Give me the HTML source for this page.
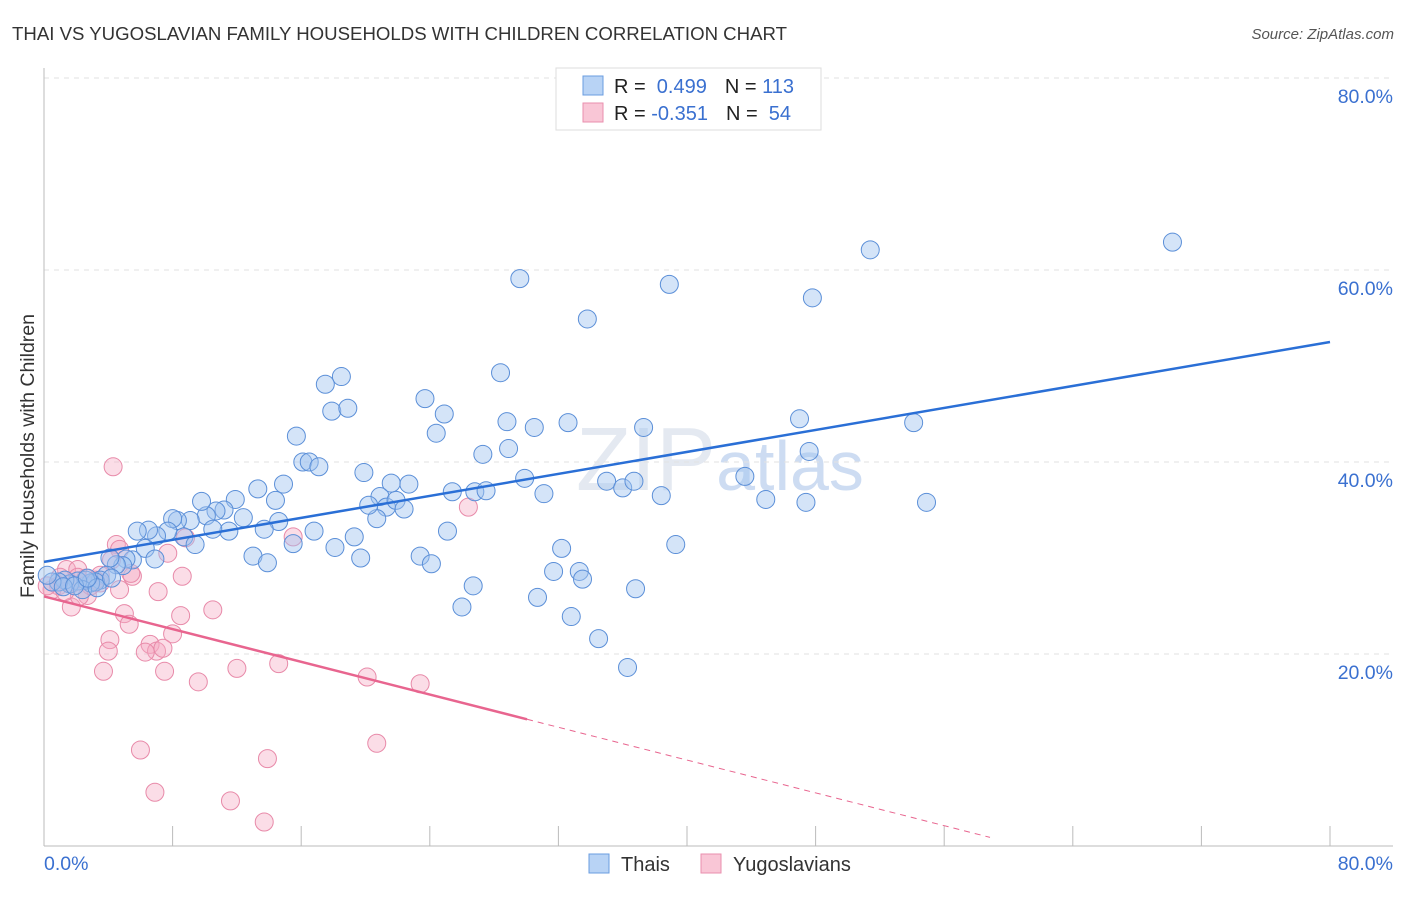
<!DOCTYPE html>
<html><head><meta charset="utf-8"><style>
body{margin:0;background:#fff;font-family:"Liberation Sans",sans-serif}
svg text{font-family:"Liberation Sans",sans-serif}
</style></head><body>
<svg id="chart" width="1406" height="892" xmlns="http://www.w3.org/2000/svg">
<text x="12" y="40" font-size="18.6" fill="#333" textLength="775" lengthAdjust="spacingAndGlyphs">THAI VS YUGOSLAVIAN FAMILY HOUSEHOLDS WITH CHILDREN CORRELATION CHART</text>
<text x="1394" y="39" font-size="15" fill="#555" text-anchor="end" font-style="italic">Source: ZipAtlas.com</text>
<text x="720" y="490" font-size="90" fill="#e4e9f1" text-anchor="middle" font-family="Liberation Serif">ZIP<tspan font-family="Liberation Sans" font-size="70" fill="#cddcf2">atlas</tspan></text>
<g id="grid"></g><g id="axes"></g><g id="pink"></g><g id="blue"></g><g id="trends"></g>
<text transform="translate(34,456) rotate(-90)" font-size="19.5" fill="#333" text-anchor="middle">Family Households with Children</text>
<g>
<rect x="556" y="68" width="265" height="62" fill="#fff" stroke="#ddd"/>
<rect x="583" y="76" width="20" height="19" fill="#b8d3f5" stroke="#6a9de0"/>
<rect x="583" y="103" width="20" height="19" fill="#f9c6d6" stroke="#e98fae"/>
<text x="614" y="93" font-size="20" fill="#222">R = <tspan fill="#3a70d0">&#160;0.499</tspan><tspan dx="18">N = </tspan><tspan fill="#3a70d0">113</tspan></text>
<text x="614" y="120" font-size="20" fill="#222">R = <tspan fill="#3a70d0">-0.351</tspan><tspan dx="18">N = </tspan><tspan fill="#3a70d0">&#160;54</tspan></text>
</g>
<g>
<rect x="589" y="854" width="20" height="19" fill="#b8d3f5" stroke="#6a9de0"/>
<text x="621" y="871" font-size="20" fill="#333">Thais</text>
<rect x="701" y="854" width="20" height="19" fill="#f9c6d6" stroke="#e98fae"/>
<text x="733" y="871" font-size="20" fill="#333">Yugoslavians</text>
</g>
</svg>
<script>
const yTicks=[20,40,60,80];
const yTickLabels=["20.0%","40.0%","60.0%","80.0%"];
const xTickVals=[0,8,16,24,32,40,48,56,64,72,80];
const xLabels=["0.0%","80.0%"];
const thaiX=[29.6,38.9,33.8,47.8,51.4,70.2,18.5,17.5,28.4,17.9,18.9,23.7,24.9,24.4,15.7,16.1,16.5,17.1,19.9,21.6,22.7,20.9,21.3,21.9,22.4,20.7,20.2,25.4,26.8,27.5,27.3,28.8,28.9,30.5,32.6,37.3,29.9,31.1,35.0,36.0,36.7,38.4,43.6,47.0,47.6,54.1,44.9,47.4,54.9,25.1,23.4,24.1,19.7,18.1,19.3,16.8,15.5,14.6,14.9,14.4,13.3,11.9,13.0,13.9,13.7,12.4,11.2,11.5,10.7,10.1,9.8,10.5,9.1,8.3,8.0,8.7,9.4,7.7,7.0,6.5,5.8,6.3,6.9,5.5,5.1,4.9,4.5,4.1,3.9,3.5,3.2,2.9,2.6,2.1,1.6,1.3,0.9,0.5,0.2,1.2,2.4,3.3,1.9,39.3,32.2,31.7,33.3,33.5,26.7,26.0,30.7,32.8,34.5,36.3,36.8,2.7,4.2];
const thaiY=[59.1,58.5,54.9,57.1,62.1,62.9,48.9,48.1,49.3,45.3,45.6,46.6,45.0,43.0,42.7,40.0,40.0,39.5,38.9,37.8,37.7,36.4,35.3,36.0,35.1,34.1,35.5,36.9,36.9,37.0,40.8,44.2,41.4,43.6,44.1,43.6,38.3,36.7,38.0,37.3,38.0,36.5,38.5,44.5,41.1,44.1,36.1,35.8,35.8,32.8,30.2,29.4,30.0,31.1,32.2,32.8,31.5,33.8,37.7,36.0,37.2,36.1,30.2,29.5,33.0,34.2,35.0,32.8,34.9,34.4,35.9,33.0,33.9,33.9,34.1,32.2,31.4,32.8,32.3,32.9,32.8,31.0,29.9,29.8,29.9,29.2,29.3,30.0,28.2,27.7,27.5,27.4,27.7,27.6,27.3,27.7,27.5,27.5,28.2,27.0,26.7,26.9,27.1,31.4,31.0,28.6,28.6,27.8,27.1,24.9,25.9,23.9,21.6,18.6,26.8,27.9,27.9];
const yugoX=[4.3,26.4,15.5,8.8,4.5,4.7,7.7,4.2,5.5,8.6,3.5,3.2,2.6,1.7,1.4,2.1,0.9,0.5,0.2,2.7,1.7,5.0,7.1,8.5,5.3,10.5,8.0,4.1,4.0,6.6,7.0,6.3,7.4,3.7,7.5,9.6,12.0,14.6,20.1,23.4,20.7,6.0,13.9,6.9,11.6,13.7,3.5,2.9,2.1,1.0,4.7,5.4,2.2,1.3];
const yugoY=[39.5,35.3,32.2,32.1,31.4,30.9,30.5,29.8,28.1,28.1,27.4,27.7,27.9,27.3,28.8,28.8,27.1,26.7,27.1,26.1,24.9,24.2,26.5,24.0,23.1,24.6,22.1,21.5,20.3,21.0,20.3,20.2,20.6,18.2,18.2,17.1,18.5,19.0,17.6,16.9,10.7,10.0,9.1,5.6,4.7,2.5,28.2,27.1,28.0,28.0,26.7,28.4,26.0,26.5];
const thaiTrend=[0,29.6,80,52.5];
const yugoTrend=[0,26.0,30.05,13.2,58.85,0.9];

const NS="http://www.w3.org/2000/svg";
const X=v=>44+v*(1286/80);
const Y=v=>846-v*9.6;
function mk(tag,attrs,parent){const e=document.createElementNS(NS,tag);for(const k in attrs)e.setAttribute(k,attrs[k]);parent.appendChild(e);return e;}
const grid=document.getElementById('grid'),axes=document.getElementById('axes');
yTicks.forEach((t,i)=>{
 const l=mk('line',{x1:44,x2:1393,y1:Y(t),y2:Y(t),stroke:'#e2e2e2','stroke-dasharray':'5,5'},grid);
 
 
 const tx=mk('text',{x:1393,y:Y(t)+25,'font-size':19.5,fill:'#3a70d0','text-anchor':'end'},axes);
 tx.textContent=yTickLabels[i];
 
 
});
const ax=mk('line',{x1:44,x2:1393,y1:846,y2:846,stroke:'#bbb'},axes);


const ay=mk('line',{x1:44,x2:44,y1:68,y2:846,stroke:'#bbb'},axes);


xTickVals.forEach(t=>{
 const l=mk('line',{x1:X(t),x2:X(t),y1:826,y2:846,stroke:'#bbb'},axes);
 
 
});
const xl0=mk('text',{x:44,y:870,'font-size':19.5,fill:'#3a70d0'},axes);xl0.textContent=xLabels[0];


const xl1=mk('text',{x:1393,y:870,'font-size':19.5,fill:'#3a70d0','text-anchor':'end'},axes);xl1.textContent=xLabels[1];


const pg=document.getElementById('pink'),bg=document.getElementById('blue');
yugoX.forEach((v,i)=>{
 const c=mk('circle',{cx:X(v),cy:Y(yugoY[i]),r:9,fill:'rgba(246,170,196,0.4)',stroke:'#e88aa9','stroke-width':1},pg);
 
 
});
thaiX.forEach((v,i)=>{
 const c=mk('circle',{cx:X(v),cy:Y(thaiY[i]),r:9,fill:'rgba(160,196,240,0.45)',stroke:'#5b8fd8','stroke-width':1},bg);
 
 
});
const tg=document.getElementById('trends');
const bt=mk('line',{x1:X(thaiTrend[0]),y1:Y(thaiTrend[1]),x2:X(thaiTrend[2]),y2:Y(thaiTrend[3]),stroke:'#2a6fd6','stroke-width':2.5},tg);


const pt=mk('line',{x1:X(yugoTrend[0]),y1:Y(yugoTrend[1]),x2:X(yugoTrend[2]),y2:Y(yugoTrend[3]),stroke:'#e8658f','stroke-width':2.5},tg);


const pd=mk('line',{x1:X(yugoTrend[2]),y1:Y(yugoTrend[3]),x2:X(yugoTrend[4]),y2:Y(yugoTrend[5]),stroke:'#e8658f','stroke-width':1,'stroke-dasharray':'6,5'},tg);


</script>
</body></html>
